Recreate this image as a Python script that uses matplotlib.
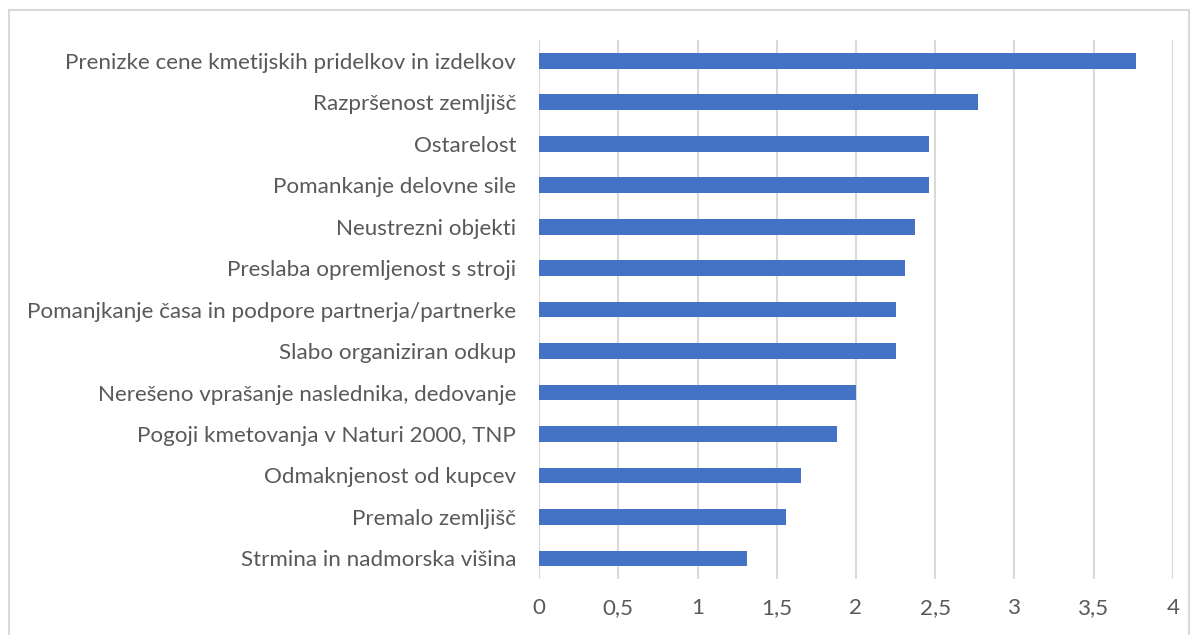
import matplotlib.pyplot as plt
from matplotlib.patches import Rectangle
from matplotlib.ticker import FuncFormatter

categories = [
    'Prenizke cene kmetijskih pridelkov in izdelkov',
    'Razpršenost zemljišč',
    'Ostarelost',
    'Pomankanje delovne sile',
    'Neustrezni objekti',
    'Preslaba opremljenost s stroji',
    'Pomanjkanje časa in podpore partnerja/partnerke',
    'Slabo organiziran odkup',
    'Nerešeno vprašanje naslednika, dedovanje',
    'Pogoji kmetovanja v Naturi 2000, TNP',
    'Odmaknjenost od kupcev',
    'Premalo zemljišč',
    'Strmina in nadmorska višina',
]
values = [3.77, 2.77, 2.46, 2.46, 2.37, 2.31, 2.25, 2.25, 2.0, 1.88, 1.65, 1.56, 1.31]
xticks = [0, 0.5, 1, 1.5, 2, 2.5, 3, 3.5, 4]

plt.rcParams['font.family'] = ['Lato', 'DejaVu Sans']

fig = plt.figure(figsize=(11.98, 6.35), dpi=100)
ax = fig.add_axes([0.450, 0.088, 0.529, 0.849])

ypos = list(range(len(categories)))[::-1]
ax.barh(ypos, values, height=0.38, color='#4472C4', zorder=3)

ax.set_xlim(0, 4)
ax.set_ylim(-0.5, len(categories) - 0.5)
ax.set_xticks(xticks)
ax.xaxis.set_major_formatter(FuncFormatter(lambda v, p: ('%g' % v).replace('.', ',')))
ax.set_yticks(ypos)
ax.set_yticklabels(categories)
ax.tick_params(axis='both', length=0, labelsize=16.1, colors='#595959')
ax.tick_params(axis='y', pad=16.5)
ax.tick_params(axis='x', pad=13.5)
ax.grid(axis='x', color='#d9d9d9', linewidth=1.5, zorder=0)
for s in ax.spines.values():
    s.set_visible(False)

# outer chart border
fig.patches.append(Rectangle((9 / 1198, -0.05), 1180 / 1198, 1 - 10 / 635 + 0.05,
                             transform=fig.transFigure, fill=False,
                             edgecolor='#d9d9d9', linewidth=1.5))

fig.savefig('out.png', dpi=100)
